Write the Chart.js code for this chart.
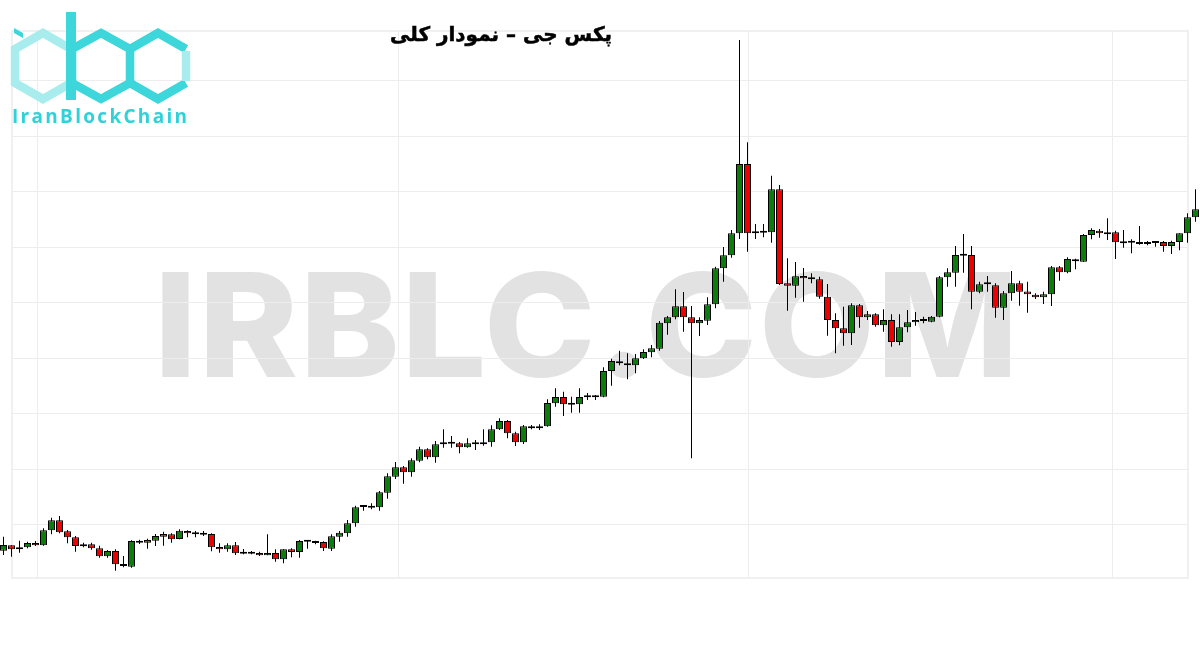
<!DOCTYPE html>
<html>
<head>
<meta charset="utf-8">
<script src="https://cdn.jsdelivr.net/npm/chart.js@4.4.1/dist/chart.umd.min.js"></script>
<style>
  body { margin: 0; background: #fff; }
  #wrap { position: relative; width: 1200px; height: 650px; overflow: hidden; }
  #watermark {
    position: absolute; left: 154px; top: 253px;
    font-family: Inter, sans-serif; font-weight: 800; font-size: 144px;
    color: #e2e2e2; letter-spacing: 1.5px; white-space: nowrap; line-height: 1;
    transform: scaleX(1.045); transform-origin: left top;
  }
  #priceChart { position: absolute; left: 0; top: 0; }
  #title {
    position: absolute; left: 0; width: 1002px; top: 22px; text-align: center;
    font-family: "DejaVu Sans", sans-serif; font-weight: bold; font-size: 20px;
    direction: rtl; color: #000; -webkit-text-stroke: 0.5px #000;
  }
  #logo { position: absolute; left: 0; top: 0; }
  #logoText {
    position: absolute; left: 12px; top: 103px;
    font-family: "Open Sans", sans-serif; font-weight: 700; font-size: 19px;
    letter-spacing: 2.3px; color: #2fd2d8;
  }
</style>
</head>
<body>
<div id="wrap">
  <div id="watermark">IRBLC.COM</div>
  <canvas id="priceChart" width="1200" height="650"></canvas>
  <div id="title">پکس جی – نمودار کلی</div>
  <svg id="logo" width="200" height="105" viewBox="0 0 200 105">
    <g fill="none" stroke-width="8.5" stroke-linejoin="miter">
      <polygon points="43,33 71,49 71,83 43,99 15,83 15,49" stroke="#a9ecee"/>
      <polygon points="101,33 130,49 130,83 101,99 72,83 72,49" stroke="#3dd6db"/>
      <polyline points="130,49 158,33 186,49" stroke="#3dd6db"/>
      <polyline points="130,83 158,99 186,83" stroke="#3dd6db"/>
      <line x1="186" y1="51" x2="186" y2="81" stroke="#a9ecee"/>
    </g>
    <rect x="66" y="12" width="10" height="88" fill="#3dd6db"/>
    <polygon points="14,28 23,33 23,38 14,33" fill="#3dd6db"/>
  </svg>
  <div id="logoText">IranBlockChain</div>
</div>
<script>
// candle values (price units, one per candle)
const opens = [149.3,154.7,150.7,152.7,157,154.7,169.7,179.7,168.7,162.7,
  153.7,155.7,151.7,143.7,149,135.7,133.3,157.3,157.3,159.3,
  163.3,165.7,161,169,165.7,165.3,166,153,150.7,154.7,
  147.3,147,147,144.7,147,140.7,150.7,148,158.3,158,
  158,151.3,163.3,166.7,176.7,193,192.3,192.7,207.3,223.3,
  232.7,227.7,239.3,250.7,242.7,255.7,256.3,256.7,252.7,255.7,
  255.7,257.7,270.7,279,266.7,257.7,273.7,271.7,273.7,296.7,
  303,296,295.7,302.7,302.7,303.3,329,338.3,336.3,334.7,
  341.7,347.7,351.3,376.7,382.7,393.7,382.7,376.7,379.3,395.7,
  431.7,444.7,466.7,536,466.7,467.3,467.7,510.7,416.7,414.3,
  424,421.7,420.7,403.3,380,371.7,366.7,394.7,382.7,385.7,
  374.7,380,358,372.7,377.7,379,378.3,383.3,422.7,427.3,
  444.3,445,408.3,415.7,414.7,392.3,406.7,416.7,408.5,405.3,
  402.7,405.7,432.7,427.7,440.7,438.3,465,469.3,465.7,467.7,
  458,458,458,456,457,458,454,458,466.7,482.7];
const highs = [163.3,154.7,159.3,158.3,159,171.7,182.3,184,170,164,
  157.3,157.3,154.3,150,150.7,144,159.7,160.3,161.3,166,
  168.3,166.7,170.7,169.7,169,169,166.7,156.7,156.7,158,
  151,149,148.3,165.7,150.7,150.7,151.7,160,160,159.3,
  158.7,165.7,169,180,194.3,195,196.7,209,226.7,238,
  234,241.7,253.3,251.7,259,270.7,264,258,261.7,260,
  270.7,274.7,281.7,280,268.3,275,275,275.7,300.7,311.7,
  308.3,303.3,311.7,307,305,332.7,341.3,349.3,346.7,346,
  350.7,355,379,384,410.7,408,394,382.7,402.7,433.3,
  453,470,660,557.7,476,476,524.3,515,441.7,438,
  432,426.7,423.3,416,386.7,393.3,396.7,396,389,386.7,
  390.7,385.7,385.7,390,388,383.3,384,424,431.7,454,
  466,454,418.3,424,416.7,409,429,419.3,418.3,406.7,
  408.3,434,434,442.7,441.3,466,471.7,471,481.7,469.3,
  470,460.7,474,459,458,459,459.3,466.7,486.7,510.7];
const lows = [145,143.3,147.3,151.7,154,154.3,165.7,166.7,156.7,148.3,
  152.7,150.3,142.3,142.3,129.3,132.7,132.3,156,151.3,154,
  154.3,157.3,160.7,162.7,162.7,164,148.7,147.3,148.3,145,
  145.7,145.7,144,144.7,138.3,136.7,142.7,142.3,151.3,155.7,
  149,149,158.3,163.3,173.3,189.3,190.7,189.3,201.3,221,
  216.3,223.3,237.7,240.7,237.3,252.3,252.3,246.7,252.3,250,
  254.3,253.3,270,261.7,254,256,270.7,270,273.3,293.3,
  284,287.3,287.3,300,300,302.7,314.3,334.7,320.7,326.7,
  341,342.7,349.3,365.3,380.7,368.3,241.7,364,375,391.7,
  418.3,442.3,461,448.3,461,462.7,457.3,415,389.3,402.3,
  398.3,416.7,401.3,364.3,346.7,354.3,355,372.3,380,373.3,
  368.3,353.3,354.7,367.7,374.3,376.7,377.7,382.7,413.3,413.3,
  427.3,390.7,406.7,408.3,382.3,380,399.3,394.3,387.3,401,
  396,394,419.3,426.7,430.7,438,460.7,462.3,460,441,
  452.3,446.7,455.3,454.7,453.3,448.3,446,449.7,457.3,478.3];
const closes = [155,150.7,152.7,157,154.7,169.7,179.7,167.7,162.7,154,
  155.7,151.7,143.7,149,135.7,134,159,159,160,164,
  166,160.7,169.3,166.7,167.3,166.7,152.7,150.7,154.7,146.7,
  146.3,146.3,144.7,147,140.7,150.7,148,159,159,157,
  151.7,163.7,167.3,176.7,192.7,194,194.3,207.7,223.7,232.7,
  227.7,239.7,250.7,242.7,255.7,257,257,252.7,256.7,257,
  257.7,270.7,279,266.7,257.7,273.7,271.7,273.7,297,303,
  295.7,295.3,303,303.7,304.3,329,339,336.7,334.7,341.7,
  348,351.7,377.3,382.7,393.7,382.7,376.7,380,395.7,431.7,
  444.7,466.7,536,466.7,468.3,468.3,510.7,416,414.3,423.7,
  421.7,420.7,403.3,380,371.7,366.7,394.7,382.7,385.7,374.7,
  380,358,372.7,377.7,380,380.3,383.3,422.7,427.7,445,
  445.3,408.3,415.7,416,392.3,406.7,416.7,408.3,405.8,402.7,
  405.7,432.7,427.7,441,438.7,465,470,466.7,467.7,457.7,
  456.7,457.3,456,458,458,454,458,466.7,482.7,490.7];

// faint background grid (price levels and candle positions)
const gridPrices = [620, 564.5, 509, 453.5, 398, 342.5, 287, 231.5, 176];
const gridCandles = [4.19, 49.31, 93.06, 138.56];

const upColor = "#0a7d0a";
const downColor = "#ee0000";

const candleIndex = opens.map((_, i) => i);

const bodies = candleIndex.map((i) => ({ x: i, y: [opens[i], closes[i]] }));
const wicks = candleIndex.map((i) => ({ x: i, y: [lows[i], highs[i]] }));
const bodyColors = candleIndex.map((i) =>
  closes[i] >= opens[i] ? upColor : downColor,
);

// grid + light frame, kept inside the framed box like the original screenshot
const framePlugin = {
  id: "frame",
  beforeDatasetsDraw(chart) {
    const c = chart.ctx;
    const xs = chart.scales.x;
    const ys = chart.scales.y;
    const left = 12, right = 1188, top = 31, bottom = 578;
    c.save();
    c.strokeStyle = "#ededed";
    c.lineWidth = 1;
    c.beginPath();
    gridPrices.forEach((v) => {
      const y = Math.round(ys.getPixelForValue(v)) + 0.5;
      c.moveTo(left, y);
      c.lineTo(right, y);
    });
    gridCandles.forEach((v) => {
      const x = Math.round(xs.getPixelForValue(v)) + 0.5;
      c.moveTo(x, top);
      c.lineTo(x, bottom);
    });
    c.stroke();
    c.strokeStyle = "#ebebeb";
    c.lineWidth = 1.5;
    c.strokeRect(left, top, right - left, bottom - top);
    c.restore();
  },
};

const ctx = document.getElementById("priceChart").getContext("2d");
const priceChart = new Chart(ctx, {
  type: "bar",
  data: {
    datasets: [
      {
        label: "body",
        data: bodies,
        backgroundColor: bodyColors,
        borderColor: "#000",
        borderWidth: 1,
        borderSkipped: false,
        barThickness: 7,
        minBarLength: 2,
        grouped: false,
        inflateAmount: 0,
      },
      {
        label: "wick",
        data: wicks,
        backgroundColor: "#000",
        borderWidth: 0,
        barThickness: 1,
        grouped: false,
        inflateAmount: 0,
      },
    ],
  },
  options: {
    responsive: false,
    devicePixelRatio: 1,
    animation: false,
    layout: { padding: 0 },
    plugins: { legend: { display: false }, tooltip: { enabled: false } },
    scales: {
      x: {
        type: "linear",
        display: false,
        offset: false,
        min: -0.4375,
        max: 149.5625,
      },
      y: {
        display: false,
        min: 50,
        max: 700,
      },
    },
  },
  plugins: [framePlugin],
});
</script>
</body>
</html>
